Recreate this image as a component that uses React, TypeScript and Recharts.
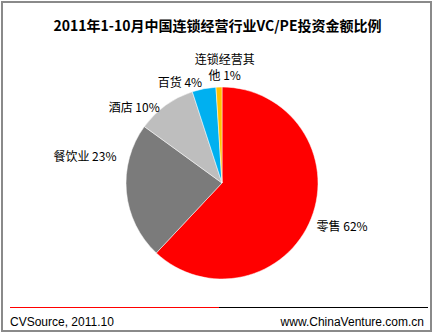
import React from "react";
import { PieChart, Pie, Cell } from "recharts";

const categories = ["零售", "餐饮业", "酒店", "百货", "连锁经营其他"];
const values = [62, 23, 10, 4, 1];
const colors = ["#FF0000", "#7B7B7B", "#BEBEBE", "#00B0F0", "#FFC000"];
const title = "2011年1-10月中国连锁经营行业VC/PE投资金额比例";
const sourceText = "CVSource, 2011.10";
const siteText = "www.ChinaVenture.com.cn";

const data = categories.map((name, i) => ({ name, value: values[i] }));

const RAD = Math.PI / 180;
const labelFont = "'Noto Sans CJK SC', 'DejaVu Sans', sans-serif";

const renderLabel = (props: any) => {
  const { cx, cy, midAngle, outerRadius, index, name, value } = props;
  const r = outerRadius + 10;
  const x = cx + r * Math.cos(-midAngle * RAD);
  const y = cy + r * Math.sin(-midAngle * RAD);
  const txt = `${name} ${value}%`;
  if (index === 4) {
    return (
      <text x={x + 6} y={y - 13} textAnchor="middle" fontSize={12} fill="#000" fontFamily={labelFont}>
        <tspan x={x + 6} dy={0}>{"连锁经营其"}</tspan>
        <tspan x={x + 6} dy={16}>{`他 ${value}%`}</tspan>
      </text>
    );
  }
  const anchor = x > cx ? "start" : "end";
  const dy = index === 1 ? -37 : index === 2 ? 9 : 3;
  const dx = index === 0 ? -4 : 0;
  return (
    <text x={x + dx} y={y + dy} textAnchor={anchor} dominantBaseline="central" fontSize={12} fill="#000" fontFamily={labelFont}>
      {txt}
    </text>
  );
};

export default function App() {
  return (
    <div style={{ position: "absolute", left: 0, top: 0, width: 435, height: 333, background: "#fff" }}>
      <div style={{ position: "absolute", left: 1, top: 1, width: 431, height: 331, border: "2px solid #8a8a8a", boxSizing: "border-box" }} />
      <div
        style={{
          position: "absolute",
          left: 0,
          top: 16,
          width: 435,
          textAlign: "center",
          fontFamily: "'Noto Sans CJK SC', 'Liberation Sans', sans-serif",
          fontWeight: "bold",
          fontSize: 14,
          lineHeight: "18px",
          color: "#000",
        }}
      >
        {title}
      </div>
      <div style={{ position: "absolute", left: 0, top: 0 }}>
        <PieChart width={435} height={333}>
          <Pie
            data={data}
            dataKey="value"
            nameKey="name"
            cx={217}
            cy={178}
            outerRadius={96}
            startAngle={90}
            endAngle={-270}
            stroke="#ffffff"
            strokeWidth={0.5}
            label={renderLabel}
            labelLine={false}
            isAnimationActive={false}
          >
            {data.map((d, i) => (
              <Cell key={d.name} fill={colors[i]} />
            ))}
          </Pie>
        </PieChart>
      </div>
      <div style={{ position: "absolute", left: 10, top: 307, width: 209, height: 1, background: "#FF0000" }} />
      <div style={{ position: "absolute", left: 219, top: 307, width: 209, height: 1, background: "#000" }} />
      <div
        style={{
          position: "absolute",
          left: 10,
          top: 314,
          fontFamily: "'Liberation Sans', Arial, sans-serif",
          fontSize: 12,
          lineHeight: "16px",
          color: "#000",
        }}
      >
        {sourceText}
      </div>
      <div
        style={{
          position: "absolute",
          right: 11,
          top: 314,
          fontFamily: "'Liberation Sans', Arial, sans-serif",
          fontSize: 12,
          lineHeight: "16px",
          color: "#000",
        }}
      >
        {siteText}
      </div>
    </div>
  );
}
